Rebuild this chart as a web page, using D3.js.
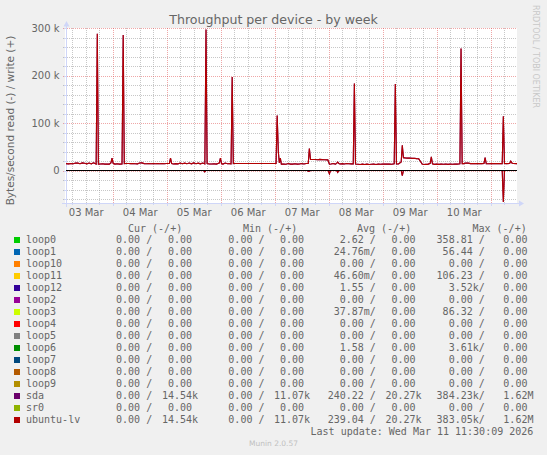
<!DOCTYPE html>
<html><head><meta charset="utf-8">
<script src="https://cdn.jsdelivr.net/npm/d3@7"></script>
<style>
html,body{margin:0;padding:0;background:#f0f0f0;}
svg{display:block;}
text{font-family:"DejaVu Sans",sans-serif;fill:#666;}
.mono{font-family:"DejaVu Sans Mono",monospace;font-size:10px;white-space:pre;}
</style></head><body>
<svg id="c" width="547" height="455"></svg>
<script>
// ---------- data ----------
const devices = ["loop0","loop1","loop10","loop11","loop12","loop2","loop3","loop4","loop5","loop6","loop7","loop8","loop9","sda","sr0","ubuntu-lv"];
const colors  = ["#00cc00","#0066b3","#ff8000","#ffcc00","#330099","#990099","#ccff00","#ff0000","#808080","#008f00","#00487d","#b35a00","#b38f00","#6b006b","#8fb300","#b30000"];
const curRead  = ["0.00","0.00","0.00","0.00","0.00","0.00","0.00","0.00","0.00","0.00","0.00","0.00","0.00","0.00","0.00","0.00"];
const curWrite = ["0.00","0.00","0.00","0.00","0.00","0.00","0.00","0.00","0.00","0.00","0.00","0.00","0.00","14.54k","0.00","14.54k"];
const minRead  = ["0.00","0.00","0.00","0.00","0.00","0.00","0.00","0.00","0.00","0.00","0.00","0.00","0.00","0.00","0.00","0.00"];
const minWrite = ["0.00","0.00","0.00","0.00","0.00","0.00","0.00","0.00","0.00","0.00","0.00","0.00","0.00","11.07k","0.00","11.07k"];
const avgRead  = ["2.62","24.76m","0.00","46.60m","1.55","0.00","37.87m","0.00","0.00","1.58","0.00","0.00","0.00","240.22","0.00","239.04"];
const avgWrite = ["0.00","0.00","0.00","0.00","0.00","0.00","0.00","0.00","0.00","0.00","0.00","0.00","0.00","20.27k","0.00","20.27k"];
const maxRead  = ["358.81","56.44","0.00","106.23","3.52k","0.00","86.32","0.00","0.00","3.61k","0.00","0.00","0.00","384.23k","0.00","383.05k"];
const maxWrite = ["0.00","0.00","0.00","0.00","0.00","0.00","0.00","0.00","0.00","0.00","0.00","0.00","0.00","1.62M","0.00","1.62M"];

// time in hours after 2026-03-03 00:00, values in kB/s
const writeSeries = [
 [3.25,14.5],[4.5,14.0],[5.5,14.8],[6.5,14.2],[7.5,15.8],[8.5,15.5],[9.5,14.3],[10.5,16.0],[11.5,15.2],[12.5,14.0],
 [13.5,15.6],[14.5,14.1],[15.5,16.2],[16.65,13.6],[17.16,288],[17.65,13.5],[18.5,13.6],[19.5,14.3],[20.5,13.5],[21.5,13.8],
 [22.5,13.4],[23.2,16],[23.7,26],[24.2,15],[25,13.5],[26,14.2],[27,13.4],[28.15,13.6],[28.67,285],[29.15,14.5],
 [30,14.6],[31,14.6],[32,14.5],[33,14.8],[34,14.2],[35,14.0],[36,15.8],[37,16.0],[38,14.5],[39,14.3],
 [40,14.4],[41,14.2],[42,14.4],[43,14.3],[44,14.5],[45,14.2],[46,14.5],[47,14.3],[48,14.6],[49.2,15],
 [49.7,26],[50.2,14.5],[51,13.6],[52,14.4],[53,14.0],[54,15.6],[55,14.2],[56,15.5],[57,14.3],[58,15.7],
 [59,14.1],[60,16.0],[61,14.3],[62,15.5],[63,14.0],[64,15.8],[64.95,14.0],[65.47,297],[65.95,14.5],[67,13.6],
 [68,13.8],[69,14.2],[70,13.5],[71.35,15.5],[71.87,26],[72.35,14.5],[73,13.5],[74,15.8],[75,14.2],[76,14.5],
 [76.6,14],[77.1,197],[77.6,14.5],[78,14.6],[96.6,14.6],[97.1,116],[97.6,40],[98.05,16],[98.5,26],[98.95,13.5],
 [100,13.8],[101,13.2],[102,14.6],[103,13.5],[104,13.4],[105,14.2],[106,13.5],[107,13.6],[108,14.8],[109,13.7],
 [110,14.6],[110.9,15],[111.4,46],[111.9,23.5],[114,23.2],[115,22.8],[116,23.5],[117,23],[118,22.6],[119.6,22.4],
 [120.3,13.2],[121,13.6],[122,14.8],[123,13.5],[123.5,15],[124,17.5],[124.5,14.5],[125,13.8],[126,14.4],[127,13.6],
 [128,14.6],[129,14.2],[130,14.0],[130.9,14],[131.4,183],[131.9,13.5],[133,13.2],[134,12.8],[135,13.4],[136,12.6],
 [137,13.4],[138,12.8],[139,13.3],[140,13.5],[141,12.8],[142,13.5],[143,13.3],[144,13.5],[145,13.6],[146,13.4],
 [147,13.5],[148,13.3],[149.1,14],[149.6,182],[150.1,14],[151,13.8],[152.2,18],[152.7,53],[153.2,27],[154,26.5],
 [155,26],[156,26.2],[157,25.5],[158,25.8],[159,25],[160,24.6],[160.8,19],[161.5,13.5],[162.3,12.8],[163,13.2],
 [164,13],[165.1,15],[165.6,28.6],[166.1,14],[167,13],[168,13.5],[169,12.9],[170,13.4],[171,13.3],[172,13.8],
 [173,13.0],[174,13.6],[175,13.2],[176,13.8],[177,13.5],[178.3,14],[178.8,257],[179.3,14.5],[180,14.5],[181,15.8],
 [182,15.5],[183,14.5],[184,14.6],[185,14.5],[186,14.8],[187,14.4],[188,14.5],[189,15],[189.5,27],[190,14.5],
 [191,14.2],[192,14.6],[193,14.5],[194,14.4],[195,14.6],[196,14.5],[197.1,14.5],[197.6,114],[198.1,14.6],[199,14.5],
 [200.4,15],[200.9,19.6],[201.4,15.5],[202,14.6],[203.67,14.5]
];
const readSeries = [
 [3.25,0],[64.4,0],[64.9,-3],[65.4,0],[110.4,0],[110.9,-1.5],[111.4,-1.5],[111.9,0],[119.8,0],[120.3,-7],
 [120.8,0],[123.5,0],[124,-4],[124.5,0],[152.2,0],[152.7,-11],[153.2,0],[197.1,0],[197.6,-66],[198.1,0],[203.67,0]
];
const yTickValues = [0,100,200,300];
const yTickLabels = ["0","100 k","200 k","300 k"];
const dayLabels = ["03 Mar","04 Mar","05 Mar","06 Mar","07 Mar","08 Mar","09 Mar","10 Mar"];
const lineDevices = ["sda","ubuntu-lv"];

// ---------- layout ----------
const svg = d3.select("#c");
const L = 66, R = 517, T = 28, B = 203;
const t0 = Date.UTC(2026,2,3,0,0,0);
const hd = h => new Date(t0 + h*3600000);
const x = d3.scaleUtc().domain([hd(3.25), hd(203.67)]).range([L, R]);
const y = d3.scaleLinear().domain([-68.4, 300]).range([B, T]);

svg.append("rect").attr("width",547).attr("height",455).attr("fill","#f0f0f0");
svg.append("rect").attr("x",L-1).attr("y",T).attr("width",R-L+1).attr("height",B-T).attr("fill","#fff");

const g = svg.append("g");
const hours = d3.range(6, 204, 6);
g.selectAll(".vg").data(hours).enter().append("line")
  .attr("x1",h=>Math.round(x(hd(h)))+0.5).attr("x2",h=>Math.round(x(hd(h)))+0.5)
  .attr("y1",T).attr("y2",B)
  .attr("stroke",h=>h%24===0?"rgba(224,80,80,0.5)":"rgba(143,143,143,0.5)")
  .attr("stroke-dasharray","1,1");
const yg = d3.range(-60, 301, 20);
g.selectAll(".hg").data(yg).enter().append("line")
  .attr("x1",L-3).attr("x2",R)
  .attr("y1",v=>Math.round(y(v))+0.5).attr("y2",v=>Math.round(y(v))+0.5)
  .attr("stroke",v=>v%100===0?"rgba(224,80,80,0.5)":"rgba(143,143,143,0.5)")
  .attr("stroke-dasharray","1,1");

const axc = "#CFD6F8";
svg.append("line").attr("x1",L-4).attr("x2",R+3).attr("y1",B+0.5).attr("y2",B+0.5).attr("stroke",axc);
svg.append("line").attr("x1",L+0.5).attr("x2",L+0.5).attr("y1",B+4).attr("y2",T-2).attr("stroke",axc);
svg.append("path").attr("d",`M${R+2},${B-2.5}L${R+2},${B+3.5}L${R+7},${B+0.5}Z`).attr("fill",axc);
svg.append("path").attr("d",`M${L-2.5},${T-1.5}L${L+3.5},${T-1.5}L${L+0.5},${T-7}Z`).attr("fill",axc);
svg.selectAll(".xt").data(hours).enter().append("line")
  .attr("x1",h=>Math.round(x(hd(h)))+0.5).attr("x2",h=>Math.round(x(hd(h)))+0.5)
  .attr("y1",B+1).attr("y2",h=>B+(h%24===0?3:2)).attr("stroke",axc);
svg.selectAll(".yt").data(yg).enter().append("line")
  .attr("x1",L-2).attr("x2",L)
  .attr("y1",v=>Math.round(y(v))+0.5).attr("y2",v=>Math.round(y(v))+0.5).attr("stroke",axc);

const line = d3.line().x(d=>x(hd(d[0]))).y(d=>y(d[1]));
lineDevices.forEach(dev=>{
  const col = colors[devices.indexOf(dev)];
  svg.append("path").datum(readSeries).attr("d",line).attr("fill","none").attr("stroke",col).attr("stroke-width",1.1);
  svg.append("path").datum(writeSeries).attr("d",line).attr("fill","none").attr("stroke",col).attr("stroke-width",1.1);
});
svg.append("line").attr("x1",L).attr("x2",R).attr("y1",y(0)).attr("y2",y(0)).attr("stroke","#000").attr("stroke-width",1);

const ya = svg.append("g").attr("transform",`translate(${L-6.5},0)`)
  .call(d3.axisLeft(y).tickValues(yTickValues).tickFormat((d,i)=>yTickLabels[i]).tickSize(0).tickPadding(0));
ya.select(".domain").remove();
ya.selectAll("text").attr("fill","#666").style("font-family","DejaVu Sans").style("font-size","10px");

const noons = dayLabels.map((d,i)=>hd(12+24*i));
const xa = svg.append("g").attr("transform",`translate(0,${B+4})`)
  .call(d3.axisBottom(x).tickValues(noons).tickFormat((d,i)=>dayLabels[i]).tickSize(0).tickPadding(2));
xa.select(".domain").remove();
xa.selectAll("text").attr("fill","#666").style("font-family","DejaVu Sans").style("font-size","10px");

svg.append("text").attr("x",273.5).attr("y",24.4).attr("text-anchor","middle")
  .style("font-size","12.6px").text("Throughput per device - by week");
svg.append("text").attr("transform","translate(14,120.5) rotate(-90)").attr("text-anchor","middle")
  .style("font-size","10.5px").text("Bytes/second read (-) / write (+)");
svg.append("text").attr("transform","translate(533.3,5) rotate(90)").style("font-size","8px")
  .style("fill","#c8c8c8").text("RRDTOOL / TOBI OETIKER");

const hdr = [["Cur (-/+)",128],["Min (-/+)",243],["Avg (-/+)",357],["Max (-/+)",472.5]];
hdr.forEach(h=>svg.append("text").attr("class","mono").attr("x",h[1]).attr("y",232.3).text(h[0]));
function split(s){const m=s.match(/^([\d.]+)([kmM]?)$/);return [m[1],m[2]];}
const negP = s=>{const [n,u]=split(s);return n.padStart(6)+(u||" ")+"/";};
const posP = s=>{const [n,u]=split(s);return n.padStart(6)+u;};
const cols = [[curRead,104,negP],[curWrite,156,posP],[minRead,216.3,negP],[minWrite,268,posP],
              [avgRead,327.7,negP],[avgWrite,379.5,posP],[maxRead,436.6,negP],[maxWrite,491.3,posP]];
devices.forEach((dev,i)=>{
  const by = 243 + 12*i;
  svg.append("rect").attr("x",14).attr("y",by-6).attr("width",6).attr("height",6).attr("fill",colors[i]);
  svg.append("text").attr("class","mono").attr("x",26).attr("y",by).text(dev);
  cols.forEach(c=>svg.append("text").attr("class","mono").attr("x",c[1]).attr("y",by).text(c[2](c[0][i])));
});
svg.append("text").attr("class","mono").attr("x",533.3).attr("y",435.3).attr("text-anchor","end")
  .text("Last update: Wed Mar 11 11:30:09 2026");
svg.append("text").attr("x",273.5).attr("y",446).attr("text-anchor","middle")
  .style("font-size","7.5px").style("fill","#c0c0c0").text("Munin 2.0.57");
</script></body></html>
